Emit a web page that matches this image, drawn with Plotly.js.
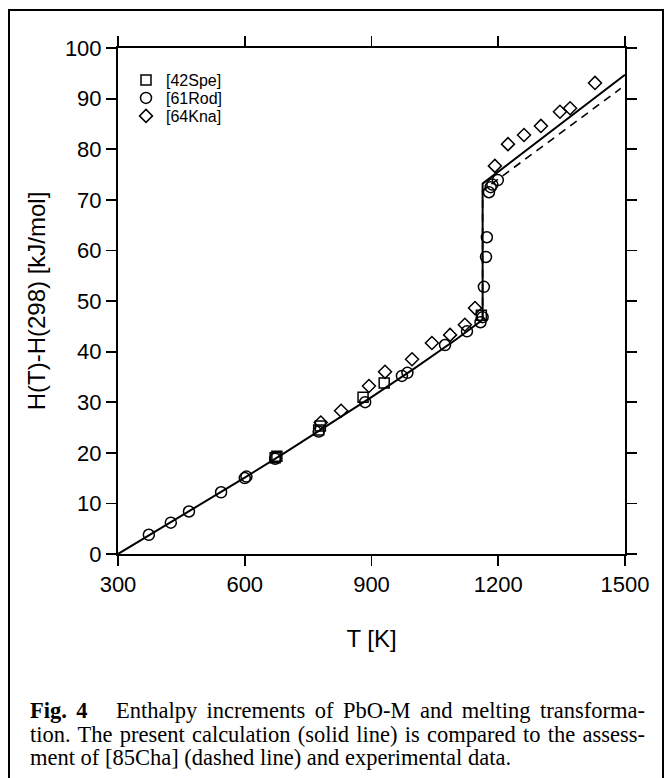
<!DOCTYPE html>
<html>
<head>
<meta charset="utf-8">
<script src="https://cdn.plot.ly/plotly-3.0.1.min.js"></script>
<style>
html,body{margin:0;padding:0;background:#fff;}
#chart{width:668px;height:778px;}
</style>
</head>
<body>
<div id="chart"></div>
<script>
// ---- data ----
// [42Spe] squares
const speT = [672, 676, 775, 779, 880, 930, 1160];
const speH = [19.0, 19.3, 24.5, 25.3, 31.0, 33.8, 47.2];
// [61Rod] circles
const rodT = [373, 425, 468, 544, 600, 604, 672, 775, 885, 972, 985, 1074, 1126, 1158, 1163, 1166, 1171, 1173, 1178, 1182, 1186, 1199];
const rodH = [3.8, 6.2, 8.4, 12.2, 15.0, 15.3, 18.8, 24.2, 30.0, 35.2, 35.8, 41.3, 44.0, 45.8, 46.8, 52.8, 58.7, 62.6, 71.5, 72.5, 73.0, 73.9];
// [64Kna] diamonds
const knaT = [780, 828, 894, 932, 996, 1043, 1086, 1121, 1145, 1192, 1223, 1261, 1301, 1346, 1370, 1429];
const knaH = [26.0, 28.3, 33.2, 36.0, 38.5, 41.7, 43.3, 45.3, 48.6, 76.7, 81.0, 82.8, 84.6, 87.4, 88.1, 93.1];
// present calculation (solid line)
const calcT = [300, 400, 500, 600, 700, 800, 900, 1000, 1100, 1163, 1163, 1500];
const calcH = [0, 5.0, 10.0, 15.1, 20.3, 25.6, 31.0, 36.6, 42.4, 46.3, 73.2, 94.7];
// assessment of [85Cha] (dashed line)
const chaT = [1163, 1163, 1490];
const chaH = [46.3, 71.8, 92.0];

const xTicks = [300, 600, 900, 1200, 1500];
const yTicks = [0, 10, 20, 30, 40, 50, 60, 70, 80, 90, 100];

const captionLines = [
  "<b>Fig. 4</b>   Enthalpy increments of PbO-M and melting transforma-",
  "tion. The present calculation (solid line) is compared to the assess-",
  "ment of [85Cha] (dashed line) and experimental data."
];

// ---- geometry (pixels) ----
const W = 668, H = 778;
const L = 118, R = 625, T = 48, B = 554;
const pw = R - L, ph = B - T;
const px = v => (v - L) / pw;
const py = v => (B - v) / ph;
const capLeft = 28, capRight = 645;

const mk = (sym, size) => ({symbol: sym, size: size, color: '#000', line: {color: '#000', width: 1.5}});
const legFont = {family: 'Liberation Sans, Arial, sans-serif', size: 16, color: '#000'};
const legBox = yc => ({x: px(126), y: py(yc), xanchor: 'left', yanchor: 'middle',
  bgcolor: 'rgba(0,0,0,0)', borderwidth: 0, font: legFont, itemwidth: 30});

const traces = [
  {x: calcT, y: calcH, mode: 'lines', line: {color: '#000', width: 2}, showlegend: false, hoverinfo: 'skip'},
  {x: chaT, y: chaH, mode: 'lines', line: {color: '#000', width: 1.6, dash: '8px,6px'}, showlegend: false, hoverinfo: 'skip'},
  {x: speT, y: speH, mode: 'markers', name: '[42Spe]', marker: mk('square-open', 10), legend: 'legend'},
  {x: rodT, y: rodH, mode: 'markers', name: '[61Rod]', marker: mk('circle-open', 11), legend: 'legend2'},
  {x: knaT, y: knaH, mode: 'markers', name: '[64Kna]', marker: mk('diamond-open', 10), legend: 'legend3'}
];

const axisCommon = {
  showline: true, linecolor: '#000', linewidth: 2,
  mirror: 'allticks', ticks: 'outside', ticklen: 10, tickwidth: 1.8, tickcolor: '#000',
  showgrid: false, zeroline: false,
  tickfont: {family: 'Liberation Sans, Arial, sans-serif', size: 22, color: '#000'}
};

const annotations = captionLines.map((t, i) => ({
  xref: 'paper', yref: 'paper', x: px(capLeft), y: py([710, 734, 757][i]),
  xanchor: 'left', yanchor: 'middle', showarrow: false, align: 'left',
  text: t, font: {family: 'Liberation Serif, Times New Roman, serif', size: 22.5, color: '#000'}
}));

const layout = {
  width: W, height: H,
  margin: {l: L, r: W - R, t: T, b: H - B, pad: 0},
  paper_bgcolor: '#fff', plot_bgcolor: '#fff',
  xaxis: Object.assign({}, axisCommon, {
    range: [300, 1500], tickvals: xTicks, ticktext: xTicks.map(String),
    title: {text: 'T [K]', font: {family: 'Liberation Sans, Arial, sans-serif', size: 24, color: '#000'}, standoff: 34}
  }),
  yaxis: Object.assign({}, axisCommon, {
    range: [0, 100], tickvals: yTicks, ticktext: yTicks.map(String),
    title: {text: 'H(T)-H(298) [kJ/mol]', font: {family: 'Liberation Sans, Arial, sans-serif', size: 24, color: '#000'}, standoff: 12}
  }),
  showlegend: true,
  legend: legBox(80),
  legend2: legBox(98),
  legend3: legBox(116),
  shapes: [
    {type: 'rect', xref: 'paper', yref: 'paper', x0: px(9), x1: px(663), y0: py(800), y1: py(10),
     line: {color: '#000', width: 2}, fillcolor: 'rgba(0,0,0,0)'}
  ],
  annotations: annotations
};

Plotly.newPlot('chart', traces, layout, {staticPlot: true, displayModeBar: false}).then(gd => {
  // justify the first two caption lines (as in the printed caption)
  const texts = gd.querySelectorAll('.annotation-text');
  const host = gd.getBoundingClientRect();
  [0, 1].forEach(i => {
    const el = texts[i];
    if (!el) return;
    const plain = captionLines[i].replace(/<[^>]+>/g, '');
    const nSpaces = (plain.match(/ /g) || []).length;
    if (!nSpaces) return;
    let ws = 0;
    for (let k = 0; k < 3; k++) {
      const right = el.getBoundingClientRect().right - host.left;
      ws += (capRight - right) / nSpaces;
      if (ws < 0) ws = 0;
      el.style.wordSpacing = ws + 'px';
    }
  });
});
</script>
</body>
</html>
